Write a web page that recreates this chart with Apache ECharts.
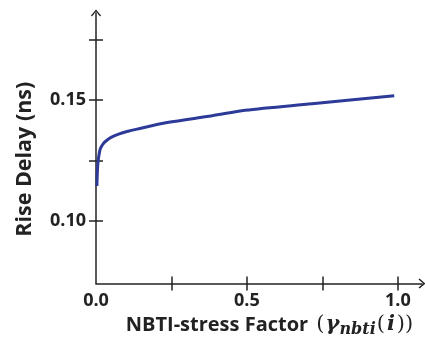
<!DOCTYPE html>
<html>
<head>
<meta charset="utf-8">
<script src="https://cdn.jsdelivr.net/npm/echarts@6/dist/echarts.min.js"></script>
<style>
html,body{margin:0;padding:0;background:#fff;}
#chart{width:425px;height:343px;}
</style>
</head>
<body>
<div id="chart"></div>
<script>
// Data
const stressFactor = [0.003, 0.005, 0.008, 0.014, 0.023, 0.034, 0.050, 0.075, 0.103, 0.136, 0.236, 0.385, 0.494, 0.716, 0.988];
const riseDelay    = [0.1145, 0.1216, 0.1257, 0.1298, 0.1318, 0.1332, 0.1346, 0.1359, 0.1370, 0.1380, 0.1407, 0.1435, 0.1458, 0.1485, 0.1518];
const xTicks = [0.25, 0.5, 0.75, 1.0];
const xLabels = [0, 0.5, 1.0];
const yTicks = [0.10, 0.125, 0.15, 0.175];
const yLabels = [0.10, 0.15];

const xMin = 0, xMax = 1.08, yMin = 0.0742, yMax = 0.186;
const axisColor = '#222';
const chevron = 'path://M5,0 L10,6 L9,7 L5,2.2 L1,7 L0,6 Z';

const chart = echarts.init(document.getElementById('chart'), null, {renderer: 'canvas'});
const labelFont = {fontFamily: 'Open Sans', fontWeight: 'bold', fontSize: 18, color: axisColor};

chart.setOption({
  animation: false,
  grid: {left: 96, top: 12.9, width: 326, height: 272.8},
  xAxis: [{
    type: 'value', min: xMin, max: xMax, position: 'bottom',
    axisLine: {show: true, onZero: false, lineStyle: {color: axisColor, width: 1.5}, symbol: ['none', chevron], symbolSize: [10, 7]},
    axisTick: {show: true, inside: false, length: 7, lineStyle: {color: axisColor, width: 1.5}, customValues: xTicks},
    axisLabel: Object.assign({show: true, margin: 8, customValues: xLabels, formatter: v => v.toFixed(1)}, labelFont),
    splitLine: {show: false},
    name: '{t|NBTI-stress Factor }{p|(}{g|γ}{s|nbti}{p|(}{i|i}{p|))}',
    nameLocation: 'middle', nameGap: 27,
    nameTextStyle: {
      padding: [0, 0, 0, 22],
      rich: {
        t: {fontFamily: 'Open Sans', fontWeight: 'bold', fontSize: 20, color: axisColor, lineHeight: 26, padding: [0, 2, 0, 0]},
        p: {fontFamily: 'DejaVu Serif', fontSize: 21, color: axisColor, lineHeight: 26, padding: [0, 1, 0, 1]},
        g: {fontFamily: 'DejaVu Serif', fontStyle: 'italic', fontWeight: 'bold', fontSize: 21, color: axisColor, lineHeight: 26},
        s: {fontFamily: 'DejaVu Serif', fontStyle: 'italic', fontWeight: 'bold', fontSize: 16, color: axisColor, lineHeight: 17, verticalAlign: 'bottom'},
        i: {fontFamily: 'DejaVu Serif', fontStyle: 'italic', fontWeight: 'bold', fontSize: 21, color: axisColor, lineHeight: 26, padding: [0, 1, 0, 1]}
      }
    }
  }, {
    type: 'value', min: xMin, max: xMax, position: 'bottom',
    axisLine: {show: false},
    axisTick: {show: true, inside: true, length: 7, lineStyle: {color: axisColor, width: 1.5}, customValues: xTicks},
    axisLabel: {show: false},
    splitLine: {show: false}
  }],
  yAxis: [{
    type: 'value', min: yMin, max: yMax, position: 'left',
    axisLine: {show: true, onZero: false, lineStyle: {color: axisColor, width: 1.5}, symbol: ['none', chevron], symbolSize: [10, 7]},
    axisTick: {show: true, inside: false, length: 7, lineStyle: {color: axisColor, width: 1.5}, customValues: yTicks},
    axisLabel: Object.assign({show: true, margin: 10, customValues: yLabels, formatter: v => v.toFixed(2)}, labelFont),
    splitLine: {show: false},
    name: 'Rise Delay (ns)', nameLocation: 'middle', nameGap: 60,
    nameTextStyle: {fontFamily: 'Open Sans', fontWeight: 'bold', fontSize: 21.5, color: axisColor, padding: [0, 22, 0, 0]}
  }, {
    type: 'value', min: yMin, max: yMax, position: 'left',
    axisLine: {show: false},
    axisTick: {show: true, inside: true, length: 7, lineStyle: {color: axisColor, width: 1.5}, customValues: yTicks},
    axisLabel: {show: false},
    splitLine: {show: false}
  }],
  series: [{
    type: 'line',
    xAxisIndex: 0, yAxisIndex: 0,
    data: stressFactor.map((x, i) => [x, riseDelay[i]]),
    showSymbol: false,
    smooth: 0.3,
    lineStyle: {color: '#2E3A98', width: 3},
    itemStyle: {color: '#2E3A98'},
    z: 3
  }]
});
</script>
</body>
</html>
